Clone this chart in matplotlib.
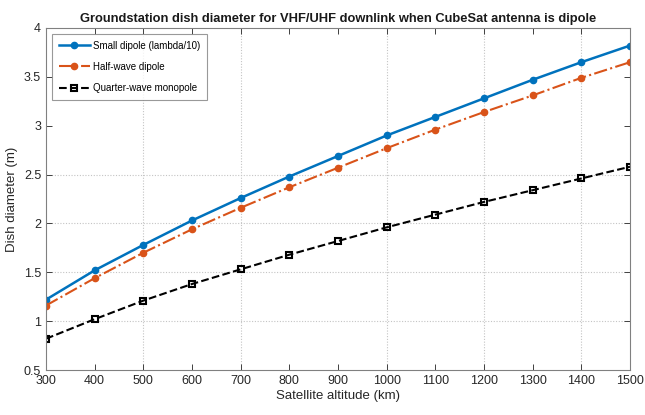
import matplotlib.pyplot as plt

plt.rcParams['font.family'] = ['Liberation Sans', 'DejaVu Sans']
plt.rcParams['axes.grid'] = False

# satellite altitude (km)
altitude = [300, 400, 500, 600, 700, 800, 900, 1000, 1100, 1200, 1300, 1400, 1500]

# dish diameter (m) for each CubeSat antenna type
small_dipole = [1.22, 1.52, 1.78, 2.03, 2.26, 2.48, 2.69, 2.90, 3.09, 3.28, 3.47, 3.65, 3.82]
half_wave = [1.16, 1.44, 1.70, 1.94, 2.16, 2.37, 2.57, 2.77, 2.96, 3.14, 3.31, 3.49, 3.65]
quarter_wave = [0.82, 1.02, 1.21, 1.38, 1.53, 1.68, 1.82, 1.96, 2.09, 2.22, 2.34, 2.46, 2.58]

yticks = [0.5, 1, 1.5, 2, 2.5, 3, 3.5, 4]
ytick_labels = ['0.5', '1', '1.5', '2', '2.5', '3', '3.5', '4']

# grid lines that show up in the picture
grid_x = [500, 700, 1000, 1200, 1400]
grid_y = [1, 1.5, 2, 2.5]

fig = plt.figure(figsize=(6.45, 4.15), dpi=100)
ax = fig.add_axes([46/645, 1 - 370/415, 584/645, 342/415])

ax.vlines(grid_x, 0.5, 4, color='#c4c4c4', linestyle=(0, (1, 1.5)), linewidth=0.8, zorder=0)
ax.hlines(grid_y, 300, 1500, color='#c4c4c4', linestyle=(0, (1, 1.5)), linewidth=0.8, zorder=0)

ax.plot(altitude, small_dipole, '-o', color='#0072BD', linewidth=1.8, markersize=4.5,
        markerfacecolor='#0072BD', label='Small dipole (lambda/10)')
ax.plot(altitude, half_wave, '-.o', color='#D95319', linewidth=1.5, markersize=4.5,
        markerfacecolor='#D95319', label='Half-wave dipole')
ax.plot(altitude, quarter_wave, '--s', color='black', linewidth=1.5, markersize=4,
        markerfacecolor='none', markeredgewidth=1.5, label='Quarter-wave monopole')

ax.set_xlim(300, 1500)
ax.set_ylim(0.5, 4)
ax.set_xticks(altitude)
ax.set_yticks(yticks)
ax.set_yticklabels(ytick_labels)
ax.tick_params(direction='in', top=True, right=True, length=4, width=0.7,
               labelsize=9, colors='#404040', labelcolor='#262626')
for s in ax.spines.values():
    s.set_color('#808080')
    s.set_linewidth(0.8)

ax.set_xlabel('Satellite altitude (km)', fontsize=9.5, color='#262626', labelpad=2)
ax.set_ylabel('Dish diameter (m)', fontsize=9.5, color='#262626', labelpad=4)
ax.set_title('Groundstation dish diameter for VHF/UHF downlink when CubeSat antenna is dipole',
             fontsize=9.3, fontweight='bold', color='#1a1a1a', pad=4)

leg = ax.legend(loc='upper left', fontsize=7, frameon=True, fancybox=False,
                edgecolor='#808080', borderpad=0.7, labelspacing=1.15,
                handlelength=3.2, handletextpad=0.3, borderaxespad=0.6)
leg.get_frame().set_linewidth(0.8)

ax.grid(False)

fig.savefig('out.png', dpi=100)
